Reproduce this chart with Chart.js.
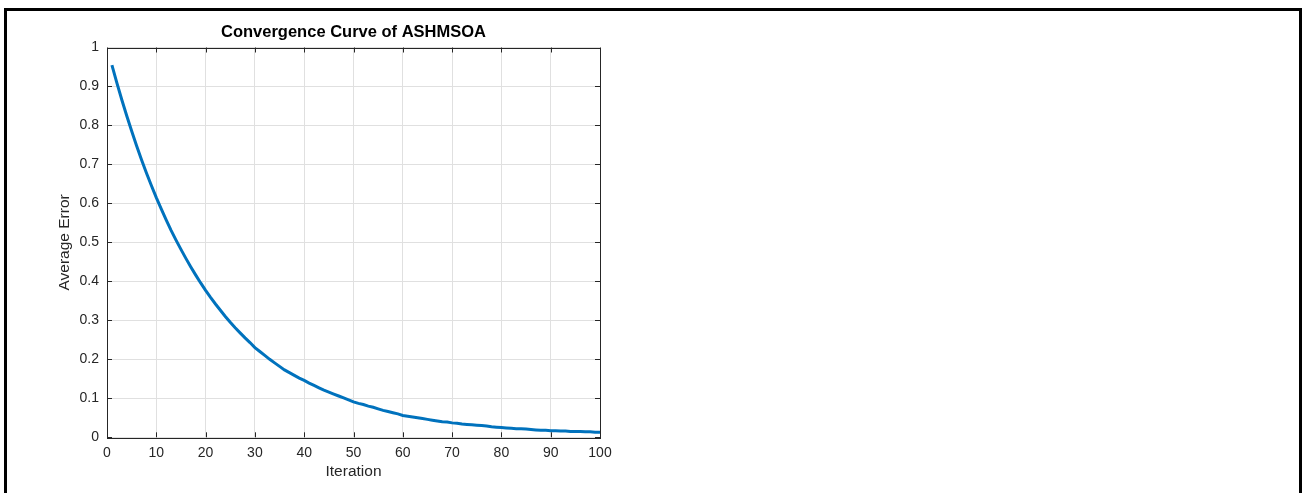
<!DOCTYPE html>
<html>
<head>
<meta charset="utf-8">
<title>Convergence Curve of ASHMSOA</title>
<script src="https://cdn.jsdelivr.net/npm/chart.js@4.4.1/dist/chart.umd.min.js"></script>
<style>
    html, body { margin: 0; padding: 0; background: #fff; overflow: hidden; }
    #frame {
        position: absolute; left: 4px; top: 8px;
        width: 1298px; height: 600px;
        box-sizing: border-box; border: 3px solid #000;
    }
    #wrap { position: absolute; left: 0; top: 0; width: 640px; height: 493px; }
</style>
</head>
<body>
<div id="frame"></div>
<div id="wrap"><canvas id="chart"></canvas></div>
<script>
// average error per iteration
const avgError = [
    0.955, 0.909, 0.866, 0.825, 0.786, 0.748, 0.712, 0.678, 0.646, 0.615,
    0.586, 0.558, 0.531, 0.506, 0.482, 0.459, 0.437, 0.416, 0.396, 0.377,
    0.359, 0.342, 0.326, 0.310, 0.295, 0.281, 0.268, 0.255, 0.243, 0.230,
    0.220, 0.210, 0.200, 0.191, 0.182, 0.173, 0.166, 0.159, 0.152, 0.146,
    0.139, 0.133, 0.127, 0.121, 0.116, 0.111, 0.106, 0.101, 0.096, 0.091,
    0.087, 0.084, 0.080, 0.077, 0.073, 0.069, 0.066, 0.063, 0.060, 0.056,
    0.054, 0.052, 0.050, 0.048, 0.046, 0.044, 0.042, 0.040, 0.039, 0.037,
    0.036, 0.034, 0.033, 0.032, 0.031, 0.030, 0.029, 0.027, 0.026, 0.025,
    0.024, 0.023, 0.022, 0.022, 0.021, 0.020, 0.019, 0.018, 0.018, 0.017,
    0.017, 0.016, 0.016, 0.015, 0.015, 0.015, 0.014, 0.014, 0.013, 0.013
];
const iterations = avgError.map((_, i) => i + 1);

const xTickLabels = ['0', '10', '20', '30', '40', '50', '60', '70', '80', '90', '100'];
const yTickLabels = ['0', '0.1', '0.2', '0.3', '0.4', '0.5', '0.6', '0.7', '0.8', '0.9', '1'];

const TEXT = '#262626';
const GRID = '#e0e0e0';

Chart.defaults.font.family = "'Liberation Sans', Arial, Helvetica, sans-serif";
Chart.defaults.color = TEXT;

// MATLAB-like box with inward ticks on all four sides
const axesBox = {
    id: 'axesBox',
    afterDraw(chart) {
        const { ctx, chartArea: a, scales } = chart;
        const len = 5;
        ctx.save();
        ctx.strokeStyle = TEXT;
        ctx.lineWidth = 1;
        ctx.beginPath();
        scales.x.ticks.forEach(t => {
            const px = Math.round(scales.x.getPixelForValue(t.value)) + 0.5;
            ctx.moveTo(px, a.bottom); ctx.lineTo(px, a.bottom - len);
            ctx.moveTo(px, a.top); ctx.lineTo(px, a.top + len);
        });
        scales.y.ticks.forEach(t => {
            const py = Math.round(scales.y.getPixelForValue(t.value)) + 0.5;
            ctx.moveTo(a.left, py); ctx.lineTo(a.left + len, py);
            ctx.moveTo(a.right, py); ctx.lineTo(a.right - len, py);
        });
        ctx.stroke();
        ctx.strokeRect(Math.round(a.left) + 0.5, Math.round(a.top) + 0.5,
            Math.round(a.right - a.left), Math.round(a.bottom - a.top));
        ctx.restore();
    }
};

new Chart(document.getElementById('chart'), {
    type: 'line',
    data: {
        datasets: [{
            data: avgError.map((e, i) => ({ x: iterations[i], y: e })),
            borderColor: '#0072BD',
            borderWidth: 3,
            pointRadius: 0,
            tension: 0,
            fill: false
        }]
    },
    options: {
        responsive: true,
        maintainAspectRatio: false,
        animation: false,
        layout: { padding: { left: 0, right: 40, top: 0, bottom: 0 } },
        plugins: {
            legend: { display: false },
            tooltip: { enabled: false },
            title: {
                display: true,
                fullSize: false,
                text: 'Convergence Curve of ASHMSOA',
                color: '#000',
                font: { size: 16.5, weight: 'bold' },
                padding: { top: 23, bottom: 4.7 }
            }
        },
        scales: {
            x: {
                type: 'linear',
                min: 0,
                max: 100,
                afterFit: s => { s.height = 55.7; },
                grid: { color: GRID, drawTicks: false },
                border: { display: false },
                ticks: {
                    stepSize: 10,
                    padding: 7,
                    font: { size: 14 },
                    maxRotation: 0,
                    callback: (v, i) => xTickLabels[i]
                },
                title: {
                    display: true,
                    text: 'Iteration',
                    font: { size: 15.5 },
                    padding: { top: 0, bottom: 11.7 }
                }
            },
            y: {
                min: 0,
                max: 1,
                afterFit: s => { s.width = 107; },
                grid: { color: GRID, drawTicks: false },
                border: { display: false },
                ticks: {
                    stepSize: 0.1,
                    padding: 8,
                    font: { size: 14 },
                    callback: (v, i) => yTickLabels[i]
                },
                title: {
                    display: true,
                    text: 'Average Error',
                    font: { size: 15.5 },
                    padding: { top: 55.7, bottom: 0 }
                }
            }
        }
    },
    plugins: [axesBox]
});
</script>
</body>
</html>
